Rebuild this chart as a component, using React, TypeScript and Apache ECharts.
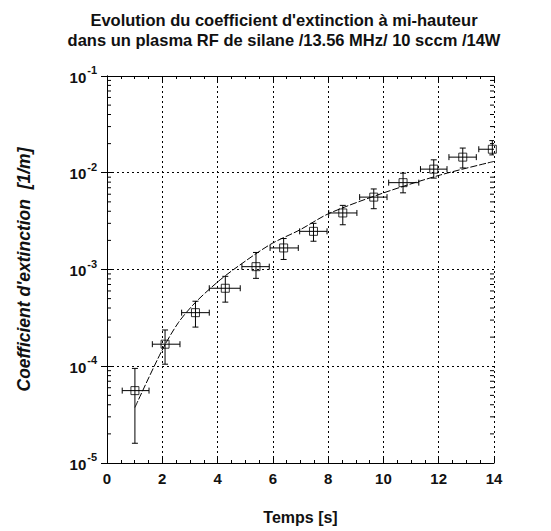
import React, { useEffect, useRef } from "react";
import * as echarts from "echarts";

const titleLines = [
  "Evolution du coefficient d'extinction à mi-hauteur",
  "dans un plasma RF de silane /13.56 MHz/ 10 sccm /14W",
];
const xName = "Temps [s]";
const yName = "Coefficient d'extinction  [1/m]";

const times = [1.01, 2.1, 3.2, 4.28, 5.39, 6.39, 7.47, 8.53, 9.65, 10.71, 11.82, 12.87, 13.94];
const coeff = [5.6e-5, 1.69e-4, 3.58e-4, 6.4e-4, 1.07e-3, 1.67e-3, 2.48e-3, 3.84e-3, 5.6e-3, 7.9e-3, 1.09e-2, 1.45e-2, 1.75e-2];
const timeLow = [0.55, 1.64, 2.7, 3.7, 4.88, 5.9, 6.97, 8.02, 9.14, 10.19, 11.34, 12.37, 13.45];
const timeHigh = [1.52, 2.64, 3.7, 4.82, 5.87, 6.92, 7.96, 9.04, 10.13, 11.28, 12.3, 13.36, 14.4];
const coeffLow = [1.6e-5, 1.05e-4, 2.54e-4, 4.6e-4, 8.1e-4, 1.27e-3, 1.96e-3, 2.9e-3, 4.25e-3, 6.2e-3, 8.8e-3, 1.12e-2, 1.53e-2];
const coeffHigh = [9.5e-5, 2.37e-4, 4.7e-4, 8.5e-4, 1.5e-3, 2.09e-3, 3.0e-3, 4.6e-3, 6.8e-3, 9.9e-3, 1.36e-2, 1.8e-2, 2.15e-2];

const fitT = [1.01, 1.98, 2.58, 3.19, 3.97, 4.58, 5.9, 6.99, 8.02, 10.01, 12.07, 14.0];
const fitK = [3.75e-5, 1.44e-4, 2.82e-4, 4.54e-4, 7.3e-4, 1.0e-3, 1.81e-3, 2.58e-3, 3.78e-3, 6.2e-3, 9.5e-3, 1.31e-2];

const xMin = 0;
const xMax = 14;
const yMin = 1e-5;
const yMax = 1e-1;
const minorMultipliers = [2, 3, 4, 5, 6, 7, 8, 9];
const decades = [1e-5, 1e-4, 1e-3, 1e-2];

const FONT = "Liberation Sans, Arial, sans-serif";

export default function App() {
  const ref = useRef<HTMLDivElement>(null);
  useEffect(() => {
    if (!ref.current) return;
    const chart = echarts.init(ref.current, null, { renderer: "svg" });

    const errData = times.map((t, i) => [t, coeff[i], timeLow[i], timeHigh[i], coeffLow[i], coeffHigh[i]]);
    const minorData: number[][] = [];
    decades.forEach((d) => minorMultipliers.forEach((m) => minorData.push([xMin, d * m])));

    const black = "#000";
    const lineStyle = { stroke: black, lineWidth: 1 };

    chart.setOption({
      animation: false,
      backgroundColor: "#fff",
      title: {
        text: titleLines.join("\n"),
        left: 279,
        textAlign: "center",
        top: 5,
        textStyle: { fontFamily: FONT, fontSize: 16.5, fontWeight: "bold", color: "#111", lineHeight: 20 },
      },
      grid: { left: 107, top: 76, right: 57, bottom: 68, containLabel: false },
      xAxis: [
        {
          type: "value",
          min: xMin,
          max: xMax,
          interval: 2,
          position: "bottom",
          name: xName,
          nameLocation: "middle",
          nameGap: 46,
          nameTextStyle: { fontFamily: FONT, fontSize: 16, fontWeight: "bold", color: "#111" },
          axisLine: { show: true, lineStyle: { color: black, width: 1 } },
          axisTick: { show: true, inside: true, length: 6, lineStyle: { color: black } },
          minorTick: { show: true, splitNumber: 4, length: 3, lineStyle: { color: black } },
          axisLabel: { fontFamily: FONT, fontSize: 15, fontWeight: "bold", color: "#111", margin: 8 },
          splitLine: { show: true, lineStyle: { color: black, type: [2, 3], width: 1 } },
        },
        {
          type: "value",
          min: xMin,
          max: xMax,
          interval: 2,
          position: "top",
          axisLine: { show: true, lineStyle: { color: black, width: 1 } },
          axisTick: { show: true, inside: true, length: 6, lineStyle: { color: black } },
          minorTick: { show: true, splitNumber: 4, length: 3, lineStyle: { color: black } },
          axisLabel: { show: false },
          splitLine: { show: false },
        },
      ],
      yAxis: [
        {
          type: "log",
          logBase: 10,
          min: yMin,
          max: yMax,
          position: "left",
          name: yName,
          nameLocation: "middle",
          nameGap: 74,
          nameRotate: 90,
          nameTextStyle: { fontFamily: FONT, fontSize: 17.5, fontWeight: "bold", fontStyle: "italic", color: "#111" },
          axisLine: { show: true, lineStyle: { color: black, width: 1 } },
          axisTick: { show: true, inside: true, length: 6, lineStyle: { color: black } },
          axisLabel: {
            margin: 10,
            color: "#111",
            formatter: (v: number) => {
              const e = Math.round(Math.log10(v));
              return `{b|10}{s|${e}}`;
            },
            rich: {
              b: { fontFamily: FONT, fontSize: 15, fontWeight: "bold", color: "#111", verticalAlign: "bottom", padding: [0, 0, 3, 0] },
              s: { fontFamily: FONT, fontSize: 11, fontWeight: "bold", color: "#111", padding: [0, 0, 12, 1] },
            },
          },
          splitLine: { show: true, lineStyle: { color: black, type: [2, 3], width: 1 } },
        },
        {
          type: "log",
          logBase: 10,
          min: yMin,
          max: yMax,
          position: "right",
          axisLine: { show: true, lineStyle: { color: black, width: 1 } },
          axisTick: { show: true, inside: true, length: 6, lineStyle: { color: black } },
          axisLabel: { show: false },
          splitLine: { show: false },
        },
      ],
      series: [
        {
          type: "custom",
          name: "minorY",
          xAxisIndex: 0,
          yAxisIndex: 0,
          silent: true,
          data: minorData,
          encode: { x: 0, y: 1 },
          renderItem: (params: any, api: any) => {
            const v = api.value(1);
            const l = api.coord([xMin, v]);
            const r = api.coord([xMax, v]);
            return {
              type: "group",
              children: [
                { type: "line", shape: { x1: l[0], y1: l[1], x2: l[0] + 4, y2: l[1] }, style: lineStyle },
                { type: "line", shape: { x1: r[0], y1: r[1], x2: r[0] - 4, y2: r[1] }, style: lineStyle },
              ],
            };
          },
          z: 3,
        },
        {
          type: "line",
          name: "fit",
          data: fitT.map((t, i) => [t, fitK[i]]),
          showSymbol: false,
          smooth: 0.3,
          lineStyle: { color: black, width: 1, type: [7, 2] },
          z: 4,
        },
        {
          type: "custom",
          name: "errors",
          clip: true,
          data: errData,
          encode: { x: 0, y: 1 },
          renderItem: (params: any, api: any) => {
            const x = api.value(0);
            const y = api.value(1);
            const lo = api.coord([api.value(2), y]);
            const hi = api.coord([api.value(3), y]);
            const bot = api.coord([x, api.value(4)]);
            const top = api.coord([x, api.value(5)]);
            const c = 3;
            return {
              type: "group",
              children: [
                { type: "line", shape: { x1: lo[0], y1: lo[1], x2: hi[0], y2: hi[1] }, style: lineStyle },
                { type: "line", shape: { x1: lo[0], y1: lo[1] - c, x2: lo[0], y2: lo[1] + c }, style: lineStyle },
                { type: "line", shape: { x1: hi[0], y1: hi[1] - c, x2: hi[0], y2: hi[1] + c }, style: lineStyle },
                { type: "line", shape: { x1: bot[0], y1: bot[1], x2: top[0], y2: top[1] }, style: lineStyle },
                { type: "line", shape: { x1: bot[0] - c, y1: bot[1], x2: bot[0] + c, y2: bot[1] }, style: lineStyle },
                { type: "line", shape: { x1: top[0] - c, y1: top[1], x2: top[0] + c, y2: top[1] }, style: lineStyle },
              ],
            };
          },
          z: 5,
        },
        {
          type: "scatter",
          name: "mesures",
          data: times.map((t, i) => [t, coeff[i]]),
          symbol: "rect",
          symbolSize: 8,
          itemStyle: { color: "rgba(0,0,0,0)", borderColor: black, borderWidth: 1 },
          z: 6,
        },
      ],
    });
    return () => chart.dispose();
  }, []);
  return <div ref={ref} style={{ width: 551, height: 531, position: "absolute", left: 0, top: 0 }} />;
}
